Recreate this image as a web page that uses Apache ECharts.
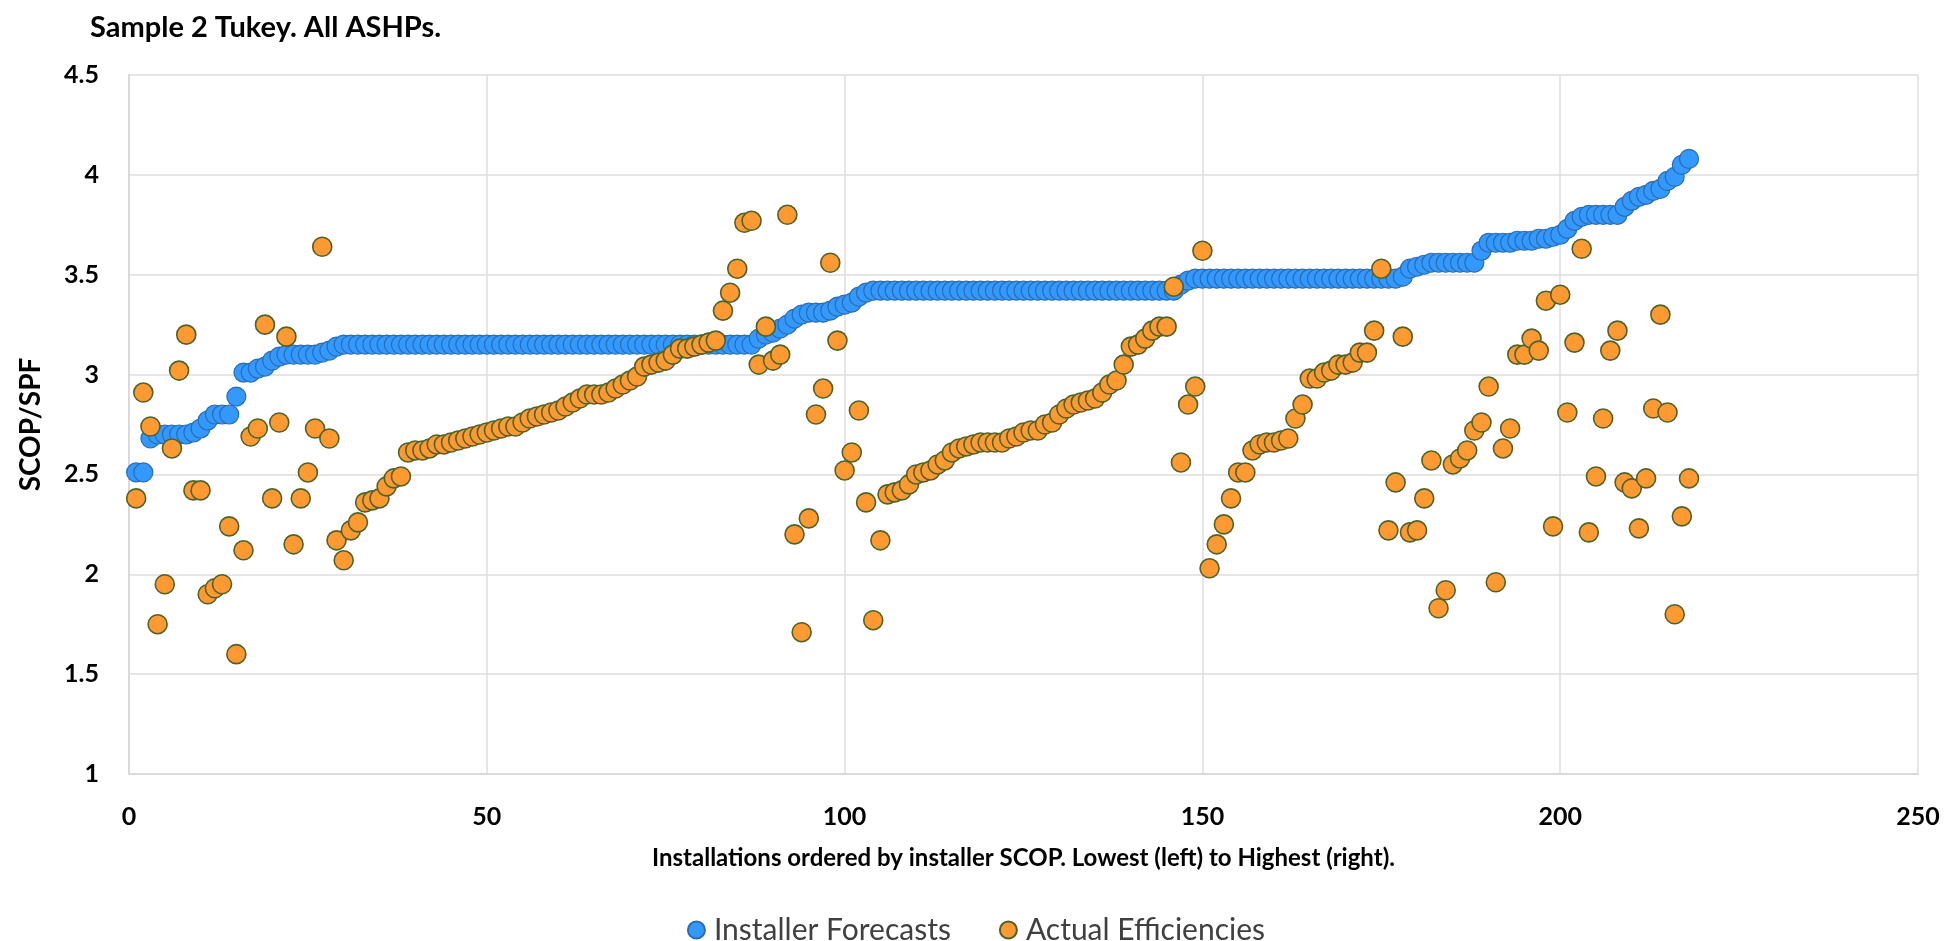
<!DOCTYPE html>
<html>
<head>
<meta charset="utf-8">
<script src="https://cdn.jsdelivr.net/npm/echarts@6/dist/echarts.min.js"></script>
<style>html,body{margin:0;padding:0;background:#fff}#c{width:1952px;height:941px}</style>
</head>
<body>
<div id="c"></div>
<script>
const titleText = 'Sample 2 Tukey. All ASHPs.';
const xAxisName = 'Installations ordered by installer SCOP. Lowest (left) to Highest (right).';
const yAxisName = 'SCOP/SPF';
const seriesNames = ['Installer Forecasts', 'Actual Efficiencies'];
const xTicks = { min: 0, max: 250, interval: 50 };
const yTicks = { min: 1, max: 4.5, interval: 0.5 };

const installerForecasts = [
  2.51,2.51,2.68,2.70,2.70,2.70,2.70,2.70,2.71,2.73,2.77,2.80,2.80,2.80,2.89,3.01,3.01,3.03,3.04,3.07,3.09,3.10,3.10,3.10,3.10,3.10,3.11,3.12,3.14,
  3.15,3.15,3.15,3.15,3.15,3.15,3.15,3.15,3.15,3.15,3.15,3.15,3.15,3.15,3.15,3.15,3.15,3.15,3.15,3.15,
  3.15,3.15,3.15,3.15,3.15,3.15,3.15,3.15,3.15,3.15,3.15,3.15,3.15,3.15,3.15,3.15,3.15,3.15,3.15,3.15,
  3.15,3.15,3.15,3.15,3.15,3.15,3.15,3.15,3.15,3.15,3.15,3.15,3.15,3.15,3.15,3.15,3.15,3.15,
  3.18,3.20,3.21,3.23,3.25,3.28,3.30,3.31,3.31,3.31,3.32,3.34,3.35,3.36,3.39,3.41,3.42,
  3.42,3.42,3.42,3.42,3.42,3.42,3.42,3.42,3.42,3.42,3.42,3.42,3.42,3.42,3.42,3.42,3.42,3.42,3.42,3.42,3.42,
  3.42,3.42,3.42,3.42,3.42,3.42,3.42,3.42,3.42,3.42,3.42,3.42,3.42,3.42,3.42,3.42,3.42,3.42,3.42,3.42,3.42,
  3.45,3.47,
  3.48,3.48,3.48,3.48,3.48,3.48,3.48,3.48,3.48,3.48,3.48,3.48,3.48,3.48,3.48,3.48,3.48,3.48,3.48,3.48,3.48,3.48,3.48,3.48,3.48,3.48,3.48,3.48,3.48,
  3.49,3.53,3.54,3.55,3.56,
  3.56,3.56,3.56,3.56,3.56,3.56,
  3.62,
  3.66,3.66,3.66,3.66,3.67,3.67,3.67,3.68,3.68,3.69,3.70,
  3.73,3.77,3.79,3.80,3.80,3.80,3.80,3.80,
  3.84,3.87,3.89,3.90,3.92,3.93,3.97,3.99,4.05,4.08
];

const actualEfficiencies = [
  2.38,2.91,2.74,1.75,1.95,2.63,3.02,3.20,2.42,2.42,
  1.90,1.93,1.95,2.24,1.60,2.12,2.69,2.73,3.25,2.38,
  2.76,3.19,2.15,2.38,2.51,2.73,3.64,2.68,2.17,2.07,
  2.22,2.26,2.36,2.37,2.38,2.44,2.48,2.49,2.61,2.62,
  2.62,2.63,2.65,2.65,2.66,
  2.67,2.68,2.69,2.70,2.71,2.72,2.73,2.74,2.74,2.76,2.78,2.79,2.80,2.81,2.82,2.84,2.86,2.88,2.90,2.90,
  2.90,2.91,2.93,2.95,2.97,2.99,3.04,3.05,3.06,3.07,3.10,3.13,3.13,3.14,3.15,3.16,3.17,
  3.32,3.41,3.53,3.76,3.77,3.05,3.24,3.07,3.10,3.80,2.20,1.71,2.28,2.80,2.93,3.56,3.17,2.52,2.61,2.82,2.36,1.77,2.17,
  2.40,2.41,2.42,2.45,2.50,2.51,2.52,2.55,2.57,2.61,
  2.63,2.64,2.65,2.66,2.66,2.66,2.66,2.68,2.69,2.71,
  2.72,2.72,2.75,2.76,2.80,2.83,2.85,2.86,2.87,2.88,
  2.91,2.95,2.97,3.05,3.14,3.15,3.18,3.22,3.24,3.24,
  3.44,2.56,2.85,2.94,3.62,2.03,2.15,2.25,2.38,2.51,
  2.51,2.62,2.65,2.66,2.66,2.67,2.68,2.78,2.85,2.98,
  2.98,3.01,3.02,3.05,3.05,3.06,3.11,3.11,3.22,3.53,
  2.22,2.46,3.19,2.21,2.22,2.38,2.57,
  1.83,1.92,2.55,2.58,2.62,2.72,2.76,2.94,1.96,2.63,
  2.73,3.10,3.10,3.18,3.12,3.37,2.24,3.40,2.81,3.16,
  3.63,2.21,2.49,2.78,3.12,3.22,2.46,2.43,2.23,2.48,
  2.83,3.30,2.81,1.80,2.29,2.48
];

const toPoints = arr => arr.map((v, i) => [i + 1, v]);
const FONT = 'Lato';

const chart = echarts.init(document.getElementById('c'), null, { renderer: 'canvas' });
chart.setOption({
  animation: false,
  backgroundColor: '#ffffff',
  textStyle: { fontFamily: FONT },
  title: {
    text: titleText,
    left: 85, top: 8,
    textStyle: { fontFamily: FONT, fontSize: 29, fontWeight: 'bold', color: '#000000' }
  },
  grid: { left: 129, right: 34, top: 75, bottom: 167, containLabel: false },
  legend: {
    top: 910, left: 'center',
    itemWidth: 17, itemHeight: 17, itemGap: 48,
    icon: 'circle',
    textStyle: { fontFamily: FONT, fontSize: 30, color: '#404040', padding: [0, 0, 0, 4] },
    data: seriesNames
  },
  xAxis: {
    type: 'value', min: xTicks.min, max: xTicks.max, interval: xTicks.interval,
    name: xAxisName, nameLocation: 'middle', nameGap: 72,
    nameTextStyle: { fontFamily: FONT, fontSize: 24, fontWeight: 'bold', color: '#000000' },
    axisLine: { show: true, lineStyle: { color: '#d9d9d9', width: 2 } },
    axisTick: { show: false },
    axisLabel: { fontFamily: FONT, fontSize: 25, fontWeight: 'bold', color: '#000000', margin: 30 },
    splitLine: { show: true, lineStyle: { color: '#dedede', width: 1.5 } }
  },
  yAxis: {
    type: 'value', min: yTicks.min, max: yTicks.max, interval: yTicks.interval,
    name: yAxisName, nameLocation: 'middle', nameGap: 84, nameRotate: 90,
    nameTextStyle: { fontFamily: FONT, fontSize: 28, fontWeight: 'bold', color: '#000000' },
    axisLine: { show: true, lineStyle: { color: '#d9d9d9', width: 2 } },
    axisTick: { show: false },
    axisLabel: { fontFamily: FONT, fontSize: 25, fontWeight: 'bold', color: '#000000', margin: 30 },
    splitLine: { show: true, lineStyle: { color: '#dedede', width: 1.5 } }
  },
  series: [
    {
      name: seriesNames[0], type: 'scatter', symbol: 'circle', symbolSize: 19,
      itemStyle: { color: '#3399ff', borderColor: '#2a6cb0', borderWidth: 1.2, opacity: 1 },
      data: toPoints(installerForecasts)
    },
    {
      name: seriesNames[1], type: 'scatter', symbol: 'circle', symbolSize: 19,
      itemStyle: { color: '#ff9a33', borderColor: '#4f6228', borderWidth: 1.6, opacity: 1 },
      data: toPoints(actualEfficiencies)
    }
  ]
});
</script>
</body>
</html>
